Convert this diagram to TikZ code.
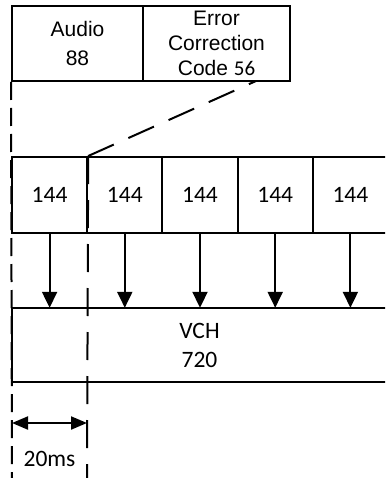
\documentclass[tikz,border=0pt]{standalone}
\usepackage{fontspec}
\setmainfont{Carlito}
\newfontfamily\arialf{Liberation Sans}
\usetikzlibrary{arrows.meta}
\begin{document}
\begin{tikzpicture}[x=1pt,y=-1pt,
  lw/.style={line width=2pt},
  topbox/.style={draw,lw,inner sep=0pt,align=center,
    font=\arialf\fontsize{21}{25}\selectfont},
  cellsh/.style={minimum width=75.2pt,minimum height=76pt,inner sep=0pt,
    font=\fontsize{23.5}{29}\selectfont},
  cell/.style={cellsh,draw,lw},
  bigbox/.style={minimum width=375pt,minimum height=74pt,inner sep=0pt,align=center,
    font=\fontsize{23.5}{29}\selectfont},
  dashA/.style={lw,dash pattern=on 18pt off 8pt},
  dashB/.style={lw,dash pattern=on 28pt off 16pt},
  downarr/.style={lw,-{Triangle[width=15pt,length=16pt]}},
  dblarr/.style={lw,{Triangle[width=13pt,length=16pt]}-{Triangle[width=13pt,length=16pt]}},
  lbl/.style={inner sep=0pt,font=\fontsize{23.5}{29}\selectfont}]
\useasboundingbox (0,0) rectangle (385,478);
\begin{scope}
\clip (0,0) rectangle (385,478);
% top boxes
\node[topbox,minimum width=131pt,minimum height=75pt] (audio) at (77.5,43.5) {Audio\\[4pt]88};
\node[topbox,minimum width=147pt,minimum height=75pt] (ecc) at (216.5,43.5) {Error\\Correction\\Code {\rmfamily 56}};
% row of cells
\node[cell] (c1) at (49.6,195) {144};
\node[cell] (c2) at (124.8,195) {144};
\node[cell] (c3) at (200,195) {144};
\node[cell] (c4) at (275.2,195) {144};
\node[cellsh] (c5) at (350.4,195) {144};
\draw[lw] ([xshift=40pt]c5.north east) -- (c5.north west) -- (c5.south west) -- ([xshift=40pt]c5.south east);
% VCH box
\node[bigbox] (vch) at (199.5,345) {VCH\\720};
\draw[lw] ([xshift=40pt]vch.north east) -- (vch.north west) -- (vch.south west) -- ([xshift=40pt]vch.south east);
% arrows
\foreach \c in {c1,c2,c3,c4,c5}
  \draw[downarr] (\c.south) -- (\c.south |- vch.north);
% coordinates
\coordinate (lbot) at (12,478);
\coordinate (rbot) at (87,478);
\coordinate (eccfoot) at (256,81);
\coordinate (dl) at (12,423);
\coordinate (dr) at (87,423);
% dashed lines
\draw[dashA] (audio.south west) -- (lbot);
\draw[dashB] (c1.north east) -- (rbot);
\draw[dashB] (c1.north east) -- (eccfoot);
% dimension
\draw[dblarr] (dl) -- (dr);
\node[lbl] (ms) at (49.5,459) {20ms};
\end{scope}
\end{tikzpicture}
\end{document}
